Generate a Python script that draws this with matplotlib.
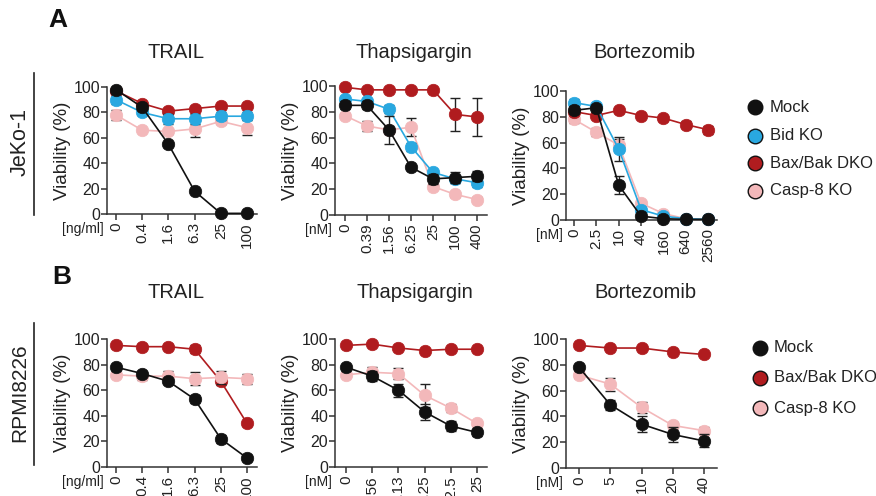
import matplotlib
matplotlib.use('Agg')
import matplotlib.pyplot as plt
from matplotlib.lines import Line2D

plt.rcParams['font.family'] = ['Liberation Sans', 'DejaVu Sans']

# ---------------- data ----------------
trail_doses = ['0', '0.4', '1.6', '6.3', '25', '100']
thaps_doses_a = ['0', '0.39', '1.56', '6.25', '25', '100', '400']
bort_doses_a = ['0', '2.5', '10', '40', '160', '640', '2560']
thaps_doses_b = ['0', '1.56', '3.13', '6.25', '12.5', '25']
bort_doses_b = ['0', '5', '10', '20', '40']

# Panel A, JeKo-1
a_trail_mock = [98, 84, 55, 18, 0.5, 0.5]
a_trail_mock_err = [1, 2, 2, 1, 0, 0]
a_trail_bid = [90, 80, 75, 75, 77, 77]
a_trail_bid_err = [3, 2, 4, 4, 3, 3]
a_trail_bax = [97, 87, 81, 83, 85, 85]
a_trail_bax_err = [1, 1, 1, 2, 1, 1]
a_trail_casp = [78, 66, 65, 67, 73, 68]
a_trail_casp_err = [4, 1, 2, 6, 2, 6]

a_thaps_mock = [85, 85, 66, 37, 28, 29, 30]
a_thaps_mock_err = [3, 3, 11, 1, 4, 4, 4]
a_thaps_bid = [90, 88, 82, 53, 33, 28, 25]
a_thaps_bid_err = [2, 2, 3, 3, 2, 3, 3]
a_thaps_bax = [99, 97, 97, 97, 97, 78, 76]
a_thaps_bax_err = [1, 1, 1, 1, 1, 13, 15]
a_thaps_casp = [77, 69, 66, 68, 22, 16, 12]
a_thaps_casp_err = [2, 4, 3, 7, 2, 2, 2]

a_bort_mock = [85, 87, 27, 3, 1, 0.5, 0.5]
a_bort_mock_err = [3, 2, 7, 1, 0, 0, 0]
a_bort_bid = [91, 88, 55, 8, 3, 1, 0.5]
a_bort_bid_err = [3, 1, 9, 2, 1, 0, 0]
a_bort_bax = [84, 81, 85, 81, 79, 74, 70]
a_bort_bax_err = [2, 2, 2, 2, 2, 3, 3]
a_bort_casp = [78, 68, 58, 13, 5, 1, 0.5]
a_bort_casp_err = [3, 3, 5, 2, 2, 1, 0]

# Panel B, RPMI8226
b_trail_mock = [78, 73, 67, 53, 22, 7]
b_trail_mock_err = [2, 2, 2, 3, 3, 2]
b_trail_bax = [95, 94, 94, 92, 67, 34]
b_trail_bax_err = [2, 2, 2, 3, 3, 2]
b_trail_casp = [72, 71, 71, 69, 70, 69]
b_trail_casp_err = [2, 3, 4, 5, 5, 4]

b_thaps_mock = [78, 71, 60, 43, 32, 27]
b_thaps_mock_err = [2, 4, 5, 6, 4, 3]
b_thaps_bax = [95, 96, 93, 91, 92, 92]
b_thaps_bax_err = [1, 1, 1, 1, 1, 1]
b_thaps_casp = [72, 74, 73, 56, 46, 34]
b_thaps_casp_err = [2, 4, 4, 9, 3, 2]

b_bort_mock = [78, 49, 34, 26, 21]
b_bort_mock_err = [2, 4, 6, 6, 5]
b_bort_bax = [95, 93, 93, 90, 88]
b_bort_bax_err = [1, 1, 1, 1, 1]
b_bort_casp = [72, 65, 47, 33, 29]
b_bort_casp_err = [2, 5, 4, 3, 3]

series_names = ['Mock', 'Bid KO', 'Bax/Bak DKO', 'Casp-8 KO']
colors = {'Mock': '#111111', 'Bid KO': '#29a8e0', 'Bax/Bak DKO': '#b01c1f',
          'Casp-8 KO': '#f3b8ba'}

# ---------------- figure ----------------
W, H = 876, 496
fig = plt.figure(figsize=(W / 100, H / 100), dpi=100)
AX_COL = '#333333'
TXT = '#222222'


def px_axes(x0, y0, x1, y1):
    return fig.add_axes([x0 / W, 1 - y1 / H, (x1 - x0) / W, (y1 - y0) / H])


def draw_panel(ax, doses, unit, series, xlim):
    n = len(doses)
    xs = list(range(n))
    for i, (name, vals, errs) in enumerate(series):
        c = colors[name]
        z = 3 + i
        ax.errorbar(xs, vals, yerr=errs, fmt='none', ecolor='#222222',
                    elinewidth=1.0, capsize=3.5, capthick=1.0, zorder=z - 0.5,
                    clip_on=False)
        ax.plot(xs, vals, '-', color=c, lw=1.2, zorder=z, clip_on=False)
        ax.plot(xs, vals, 'o', color=c, ms=9, mec=c, mew=0.5, zorder=z + 0.1,
                clip_on=False)
    ax.set_xlim(*xlim)
    ax.set_ylim(0, 100)
    ax.set_yticks([0, 20, 40, 60, 80, 100])
    ax.set_xticks(xs)
    ax.set_xticklabels(doses, rotation=90, fontsize=11, color=TXT)
    ax.tick_params(axis='y', labelsize=11.5, labelcolor=TXT, pad=1)
    ax.tick_params(axis='both', direction='out', length=4, width=1.1,
                   color=AX_COL)
    ax.tick_params(axis='x', pad=2)
    for s in ['top', 'right']:
        ax.spines[s].set_visible(False)
    for s in ['left', 'bottom']:
        ax.spines[s].set_color(AX_COL)
        ax.spines[s].set_linewidth(1.1)
    ax.set_ylabel('Viability (%)', fontsize=13.5, color=TXT, labelpad=2)
    ax.annotate(unit, xy=(0, 0), xycoords='axes fraction', xytext=(-3, -15),
                textcoords='offset pixels', ha='right', va='center',
                fontsize=10, color=TXT)


# Row A (later entries drawn on top)
ax = px_axes(107, 87, 257, 214)
draw_panel(ax, trail_doses, '[ng/ml]', [
    ('Casp-8 KO', a_trail_casp, a_trail_casp_err),
    ('Bax/Bak DKO', a_trail_bax, a_trail_bax_err),
    ('Bid KO', a_trail_bid, a_trail_bid_err),
    ('Mock', a_trail_mock, a_trail_mock_err)], (-0.34, 5.38))

ax = px_axes(335, 86, 487, 215)
draw_panel(ax, thaps_doses_a, '[nM]', [
    ('Casp-8 KO', a_thaps_casp, a_thaps_casp_err),
    ('Bax/Bak DKO', a_thaps_bax, a_thaps_bax_err),
    ('Bid KO', a_thaps_bid, a_thaps_bid_err),
    ('Mock', a_thaps_mock, a_thaps_mock_err)], (-0.45, 6.45))

ax = px_axes(566, 91, 717, 220)
draw_panel(ax, bort_doses_a, '[nM]', [
    ('Casp-8 KO', a_bort_casp, a_bort_casp_err),
    ('Bax/Bak DKO', a_bort_bax, a_bort_bax_err),
    ('Bid KO', a_bort_bid, a_bort_bid_err),
    ('Mock', a_bort_mock, a_bort_mock_err)], (-0.36, 6.4))

# Row B
ax = px_axes(107, 339, 257, 467)
draw_panel(ax, trail_doses, '[ng/ml]', [
    ('Bax/Bak DKO', b_trail_bax, b_trail_bax_err),
    ('Casp-8 KO', b_trail_casp, b_trail_casp_err),
    ('Mock', b_trail_mock, b_trail_mock_err)], (-0.34, 5.38))

ax = px_axes(335, 339, 487, 467)
draw_panel(ax, thaps_doses_b, '[nM]', [
    ('Bax/Bak DKO', b_thaps_bax, b_thaps_bax_err),
    ('Casp-8 KO', b_thaps_casp, b_thaps_casp_err),
    ('Mock', b_thaps_mock, b_thaps_mock_err)], (-0.42, 5.38))

ax = px_axes(566, 339, 717, 468)
draw_panel(ax, bort_doses_b, '[nM]', [
    ('Bax/Bak DKO', b_bort_bax, b_bort_bax_err),
    ('Casp-8 KO', b_bort_casp, b_bort_casp_err),
    ('Mock', b_bort_mock, b_bort_mock_err)], (-0.42, 4.42))

# Titles
for x, y, t in [(176, 52, 'TRAIL'), (414, 52, 'Thapsigargin'), (644, 53, 'Bortezomib'),
                (176, 293, 'TRAIL'), (415, 292, 'Thapsigargin'), (645, 292, 'Bortezomib')]:
    fig.text(x / W, 1 - y / H, t, ha='center', va='center', fontsize=14.5,
             color=TXT)

# Panel letters
fig.text(58 / W, 1 - 20 / H, 'A', ha='center', va='center', fontsize=19,
         fontweight='bold', color='#111111')
fig.text(62 / W, 1 - 277 / H, 'B', ha='center', va='center', fontsize=19,
         fontweight='bold', color='#111111')

# Row labels with lines
fig.text(20 / W, 1 - 142 / H, 'JeKo-1', rotation=90, ha='center', va='center',
         fontsize=15.5, color=TXT)
fig.text(20 / W, 1 - 393 / H, 'RPMI8226', rotation=90, ha='center', va='center',
         fontsize=15, color=TXT)
fig.add_artist(Line2D([34 / W, 34 / W], [1 - 73 / H, 1 - 215 / H],
                      color=TXT, lw=1.2))
fig.add_artist(Line2D([34 / W, 34 / W], [1 - 323 / H, 1 - 465 / H],
                      color=TXT, lw=1.2))


# Legends (figure-level markers + text)
def legend(entries, x_marker, x_text, ys):
    for name, y in zip(entries, ys):
        fig.add_artist(Line2D([x_marker / W], [1 - y / H], marker='o', ms=10.5,
                              color=colors[name], mec='#111111', mew=1.0,
                              linestyle='none'))
        fig.text(x_text / W, 1 - y / H, name, ha='left', va='center',
                 fontsize=12, color=TXT)


legend(series_names, 755, 770, [107, 136, 163, 191])
legend(['Mock', 'Bax/Bak DKO', 'Casp-8 KO'], 760, 774, [348, 378, 408])

fig.savefig('out.png', dpi=100)
